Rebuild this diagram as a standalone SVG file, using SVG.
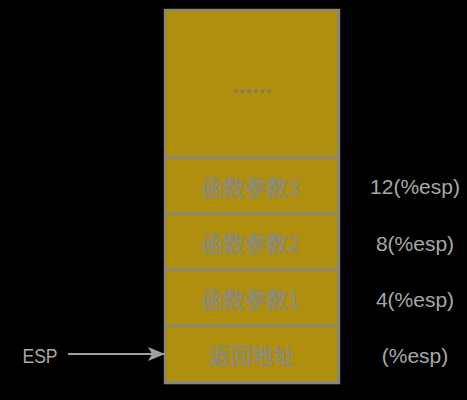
<svg xmlns="http://www.w3.org/2000/svg" width="467" height="400" viewBox="0 0 467 400">
<defs>
<style>
.box{fill:#b08f0e;stroke:#858585;stroke-width:1.5}
.cell{font-family:"Noto Sans CJK SC","Liberation Sans",sans-serif;font-size:21.5px;fill:#929292;stroke:#7a7a70;stroke-width:0.4;text-anchor:middle}
.dot{font-family:"Noto Sans CJK SC",sans-serif;font-size:20px;fill:#8a8a8a;stroke:#707070;stroke-width:0.8;text-anchor:middle}
.lbl{font-family:"Liberation Sans","Noto Sans",sans-serif;font-size:21px;fill:#a8a8a8;text-anchor:middle}
</style>
<marker id="ah" markerWidth="18" markerHeight="14" refX="17" refY="7" orient="auto" markerUnits="userSpaceOnUse">
<path d="M0,0 L17,7 L0,14 L4,7 Z" fill="#a0a0a0"/>
</marker>
</defs>
<rect width="467" height="400" fill="#000"/>
<rect x="164.5" y="9.5" width="175" height="374" fill="none" stroke="#858585" stroke-width="1.5"/>
<g id="dots">
<rect class="box" x="165.5" y="10.5" width="173" height="147"/>
<text class="dot" x="252" y="98.5">……</text>
</g>
<g id="arg3">
<rect class="box" x="165.5" y="158.5" width="173" height="55"/>
<text class="cell" x="251" y="196">函数参数3</text>
</g>
<g id="arg2">
<rect class="box" x="165.5" y="214.5" width="173" height="55"/>
<text class="cell" x="251" y="252">函数参数2</text>
</g>
<g id="arg1">
<rect class="box" x="165.5" y="270.5" width="173" height="55"/>
<text class="cell" x="251" y="308">函数参数1</text>
</g>
<g id="ret">
<rect class="box" x="165.5" y="326.5" width="173" height="56"/>
<text class="cell" x="252" y="364">返回地址</text>
</g>
<g id="labels">
<text class="lbl" x="415" y="194">12(%esp)</text>
<text class="lbl" x="415" y="251">8(%esp)</text>
<text class="lbl" x="415" y="307">4(%esp)</text>
<text class="lbl" x="415" y="363">(%esp)</text>
</g>
<g id="esp">
<text class="lbl" x="40" y="363" font-size="22" textLength="35" lengthAdjust="spacingAndGlyphs">ESP</text>
</g>
<g id="connectors">
<line x1="68" y1="354" x2="165" y2="354" stroke="#a0a0a0" stroke-width="2" marker-end="url(#ah)"/>
</g>
</svg>
